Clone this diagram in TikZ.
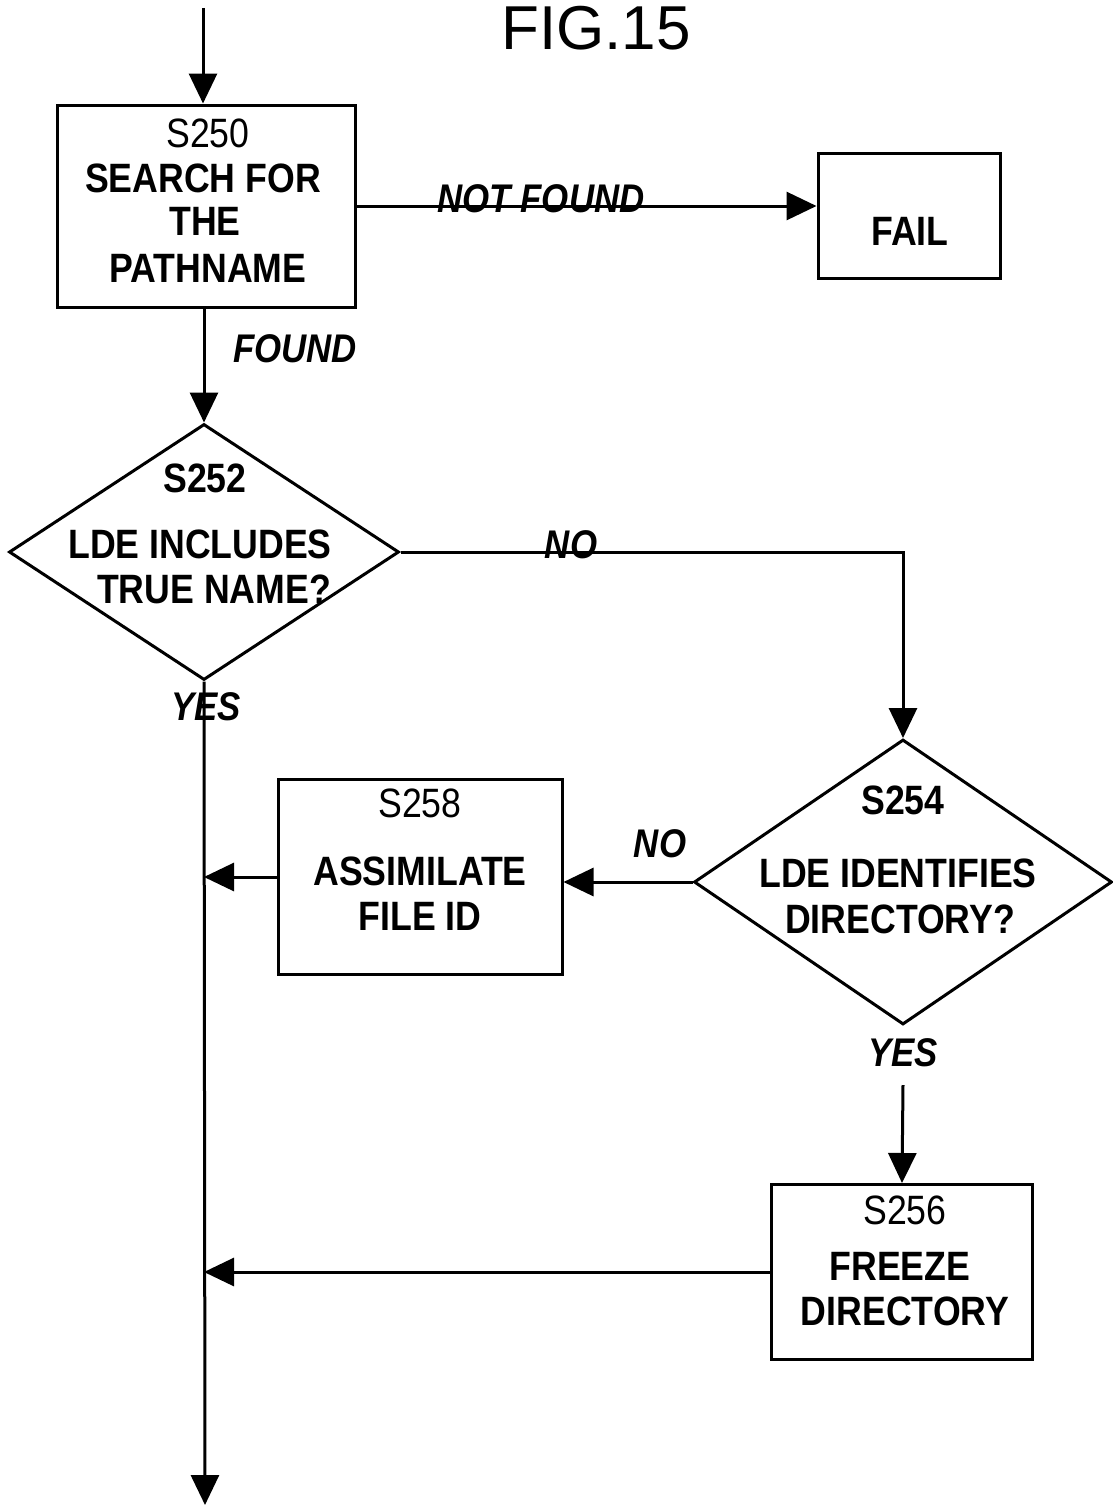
\documentclass[tikz,border=0pt]{standalone}
\usepackage{fontspec}
\setmainfont{Liberation Sans}
\newfontfamily\labfont[FakeStretch=0.87]{Liberation Sans}
\usetikzlibrary{arrows.meta,shapes.geometric}
\tikzset{
  box/.style={draw, line width=3pt, inner sep=0pt, fill=none},
  dia/.style={draw, diamond, line width=3pt, inner sep=0pt},
  txt/.style={font=\labfont\bfseries\fontsize{41}{45}\selectfont, inner sep=0pt, anchor=base},
  snum/.style={font=\labfont\fontsize{41}{45}\selectfont, inner sep=0pt, anchor=base},
  lbl/.style={font=\labfont\bfseries\itshape\fontsize{40}{44}\selectfont, inner sep=0pt, anchor=base},
  conn/.style={line width=3pt, -{Triangle[width=28pt,length=30pt]}},
  plain/.style={line width=3pt}
}
\begin{document}
\begin{tikzpicture}[x=1pt,y=-1pt]
\useasboundingbox (0,0) rectangle (1112,1512);
% title
\node[font=\fontsize{62}{66}\selectfont, inner sep=0pt, anchor=base] (title) at (596,50) {FIG.15};
% boxes
\node[box, minimum width=298pt, minimum height=202pt] (s250) at (206,206) {};
\node[box, minimum width=182pt, minimum height=125pt] (fail) at (909,216) {};
\node[dia, minimum width=390pt, minimum height=256pt] (d252) at (204,552) {};
\node[dia, minimum width=418pt, minimum height=285pt] (d254) at (903,882) {};
\node[box, minimum width=284pt, minimum height=195pt] (s258) at (420,877) {};
\node[box, minimum width=261pt, minimum height=175pt] (s256) at (902,1272) {};
% texts
\node[snum] (t250) at (208,147) {S250};
\node[txt] (t250a) at (203,192) {SEARCH FOR};
\node[txt] (t250b) at (205,235) {THE};
\node[txt] (t250c) at (208,282) {PATHNAME};
\node[txt] (tfail) at (910,245) {FAIL};
\node[txt] (t252) at (205,492) {S252};
\node[txt] (t252a) at (200,558) {LDE INCLUDES};
\node[txt] (t252b) at (214,603) {TRUE NAME?};
\node[snum] (t258) at (420,817) {S258};
\node[txt] (t258a) at (420,885) {ASSIMILATE};
\node[txt] (t258b) at (420,930) {FILE ID};
\node[txt] (t254) at (903,814) {S254};
\node[txt] (t254a) at (898,887) {LDE IDENTIFIES};
\node[txt] (t254b) at (900,933) {DIRECTORY?};
\node[snum] (t256) at (905,1224) {S256};
\node[txt] (t256a) at (900,1280) {FREEZE};
\node[txt] (t256b) at (905,1325) {DIRECTORY};
% connector labels
\node[lbl] (lnf) at (541,212) {NOT FOUND};
\node[lbl] (lfound) at (295,362) {FOUND};
\node[lbl] (lno1) at (571,558) {NO};
\node[lbl] (lyes1) at (206,720) {YES};
\node[lbl] (lno2) at (660,857) {NO};
\node[lbl] (lyes2) at (903,1066) {YES};
% coordinates
\coordinate (start) at (203,8);
\coordinate (stop) at (205,1505);
\coordinate (y2) at (903,1085);
% connectors
\draw[conn] (start) -- (start |- s250.north);
\draw[conn] (s250.east) -- (fail.west |- s250.east);
\draw[conn] (s250.south -| d252.north) -- (d252.north);
\draw[conn] (d252.east) -| (d254.north);
\draw[conn] (d252.south) -- (stop);
\draw[conn] (d254.west) -- (d254.west -| s258.east);
\draw[conn] (s258.west) -- (s258.west -| d252.south);
\draw[conn] (y2) -- (s256.north);
\draw[conn] (s256.west) -- (s256.west -| d252.south);
\end{tikzpicture}
\end{document}
